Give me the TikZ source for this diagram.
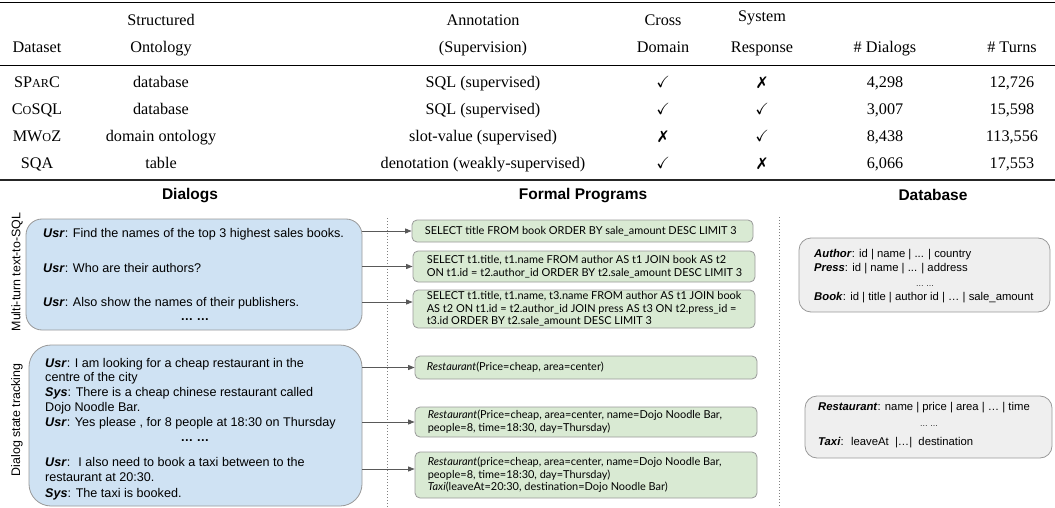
\documentclass[tikz,border=0pt]{standalone}
\usepackage{amssymb}
\usepackage{pifont}
\usepackage{fontspec}
\setmainfont{Liberation Serif}
\newfontfamily\arialf{Liberation Sans}
\newfontfamily\latof{Lato}
\usetikzlibrary{arrows.meta}
\definecolor{bluefill}{HTML}{CFE2F3}
\definecolor{greenfill}{HTML}{D9EAD3}
\definecolor{grayfill}{HTML}{EFEFEF}
\definecolor{boxline}{HTML}{999999}
\definecolor{arrowc}{HTML}{595959}
\newcommand\fsc[1]{{\fontsize{12.2}{13}\selectfont #1}}
\newcommand\xmark{\ding{55}}
\tikzset{
  tbl/.style={font=\fontsize{16.2}{19.5}\selectfont, inner sep=0, anchor=base},
  sechead/.style={font=\arialf\bfseries\fontsize{15.5}{18}\selectfont, inner sep=0},
  sidelab/.style={font=\arialf\fontsize{12.4}{14}\selectfont, inner sep=0, rotate=90},
  bbox/.style={draw=boxline, fill=bluefill, line width=0.8},
  gbox/.style={draw=boxline, fill=greenfill, line width=0.8, rounded corners=5},
  dbbox/.style={draw=boxline, fill=grayfill, line width=0.8, rounded corners=12},
  dtext/.style={font=\arialf\fontsize{12.6}{14.6}\selectfont, inner sep=0, anchor=base west},
  ddots/.style={font=\arialf\bfseries\fontsize{12.6}{14.6}\selectfont, inner sep=0, anchor=base},
  gtext/.style={font=\latof\fontsize{10.95}{12.7}\selectfont, inner sep=0, anchor=west, align=left},
  dbtext/.style={font=\arialf\fontsize{11.3}{14}\selectfont, inner sep=0, anchor=base west},
  dbdots/.style={font=\arialf\fontsize{8}{9}\selectfont, inner sep=0, anchor=base},
  arr/.style={draw=arrowc, line width=0.9, -{Triangle[length=6.5,width=5]}},
  sep/.style={draw=gray, line width=0.7, dash pattern=on 0.8pt off 2.2pt},
}
\begin{document}
\begin{tikzpicture}[x=1pt,y=-1pt]
\useasboundingbox (0,0) rectangle (1055,508);
% ---------- table ----------
\draw[line width=1.4] (0,2.5) -- (1055,2.5);
\node[tbl] (hs1) at (161,25.5) {Structured};
\node[tbl] (ha1) at (483,25.5) {Annotation};
\node[tbl] (hc1) at (663,25.5) {Cross};
\node[tbl] (hy1) at (762,21.5) {System};
\node[tbl] (hd)  at (37,52.5) {Dataset};
\node[tbl] (hs2) at (161,52.5) {Ontology};
\node[tbl] (ha2) at (483,52.5) {(Supervision)};
\node[tbl] (hc2) at (663,52.5) {Domain};
\node[tbl] (hy2) at (762,52.5) {Response};
\node[tbl] (hn)  at (885,52.5) {\# Dialogs};
\node[tbl] (ht)  at (1012,52.5) {\# Turns};
\draw[line width=0.8] (0,65) -- (1055,65);
% rows
\node[tbl] (r1a) at (37,87.5) {SP\fsc{AR}C};
\node[tbl] (r1b) at (161,87.5) {database};
\node[tbl] (r1c) at (483,87.5) {SQL (supervised)};
\node[tbl] (r1d) at (663,87.5) {$\checkmark$};
\node[tbl] (r1e) at (762,87.5) {\xmark};
\node[tbl] (r1f) at (885,87.5) {4,298};
\node[tbl] (r1g) at (1012,87.5) {12,726};
\node[tbl] (r2a) at (37,114.5) {C\fsc{O}SQL};
\node[tbl] (r2b) at (161,114.5) {database};
\node[tbl] (r2c) at (483,114.5) {SQL (supervised)};
\node[tbl] (r2d) at (663,114.5) {$\checkmark$};
\node[tbl] (r2e) at (762,114.5) {$\checkmark$};
\node[tbl] (r2f) at (885,114.5) {3,007};
\node[tbl] (r2g) at (1012,114.5) {15,598};
\node[tbl] (r3a) at (37,141.5) {MW\fsc{O}Z};
\node[tbl] (r3b) at (161,141.5) {domain ontology};
\node[tbl] (r3c) at (483,141.5) {slot-value (supervised)};
\node[tbl] (r3d) at (663,141.5) {\xmark};
\node[tbl] (r3e) at (762,141.5) {$\checkmark$};
\node[tbl] (r3f) at (885,141.5) {8,438};
\node[tbl] (r3g) at (1012,141.5) {113,556};
\node[tbl] (r4a) at (37,168.5) {SQA};
\node[tbl] (r4b) at (161,168.5) {table};
\node[tbl] (r4c) at (483,168.5) {denotation (weakly-supervised)};
\node[tbl] (r4d) at (663,168.5) {$\checkmark$};
\node[tbl] (r4e) at (762,168.5) {\xmark};
\node[tbl] (r4f) at (885,168.5) {6,066};
\node[tbl] (r4g) at (1012,168.5) {17,553};
\draw[line width=1.6, black!85] (0,180) -- (1055,180);
% ---------- section headers ----------
\node[sechead] (sh1) at (190,196) {Dialogs};
\node[sechead] (sh2) at (583,196) {Formal Programs};
\node[sechead] (sh3) at (933,195) {Database};
\node[sidelab] (sl1) at (17,272) {Multi-turn text-to-SQL};
\node[sidelab] (sl2) at (17,420) {Dialog state tracking};
% separators
\coordinate (s1t) at (387,218);
\coordinate (s1b) at (387,508);
\coordinate (s2t) at (779,217);
\coordinate (s2b) at (779,508);
\draw[sep] (s1t) -- (s1b);
\draw[sep] (s2t) -- (s2b);
% ---------- dialog boxes ----------
\node[bbox, rounded corners=16, minimum width=336, minimum height=111] (b1) at (194,274.5) {};
\node[bbox, rounded corners=22, minimum width=333, minimum height=161] (b2) at (195.5,425.5) {};
\node[dtext] (b1l1) at (43,237) {\textbf{\textit{Usr}}: Find the names of the top 3 highest sales books.};
\node[dtext] (b1l2) at (43,272) {\textbf{\textit{Usr}}: Who are their authors?};
\node[dtext] (b1l3) at (43,306) {\textbf{\textit{Usr}}: Also show the names of their publishers.};
\node[ddots] (b1d) at (195,320.5) {\ldots\ \ldots};
\node[dtext] (b2l1) at (45,367) {\textbf{\textit{Usr}}: I am looking for a cheap restaurant in the};
\node[dtext] (b2l2) at (45,381.5) {centre of the city};
\node[dtext] (b2l3) at (45,396.5) {\textbf{\textit{Sys}}: There is a cheap chinese restaurant called};
\node[dtext] (b2l4) at (45,411) {Dojo Noodle Bar.};
\node[dtext] (b2l5) at (45,426) {\textbf{\textit{Usr}}: Yes please , for 8 people at 18:30 on Thursday};
\node[ddots] (b2d) at (195,441.5) {\ldots\ \ldots};
\node[dtext] (b2l6) at (45,466) {\textbf{\textit{Usr}}: \ I also need to book a taxi between to the};
\node[dtext] (b2l7) at (45,481) {restaurant at 20:30.};
\node[dtext] (b2l8) at (45,497) {\textbf{\textit{Sys}}: The taxi is booked.};
% ---------- formal program boxes ----------
\node[gbox, minimum width=341, minimum height=22] (g1) at (582.5,231) {};
\node[gbox, minimum width=342, minimum height=31] (g2) at (584,266.5) {};
\node[gbox, minimum width=342, minimum height=38] (g3) at (584,309) {};
\node[gbox, minimum width=342, minimum height=23] (g4) at (586,367.5) {};
\node[gbox, minimum width=342, minimum height=30] (g5) at (586,422) {};
\node[gbox, minimum width=342, minimum height=46] (g6) at (586,475) {};
\node[gtext] (g1t) at ([xshift=13]g1.west) {SELECT title FROM book ORDER BY sale\_amount DESC LIMIT 3};
\node[gtext] (g2t) at ([xshift=14]g2.west) {SELECT t1.title, t1.name FROM author AS t1 JOIN book AS t2\\ON t1.id = t2.author\_id ORDER BY t2.sale\_amount DESC LIMIT 3};
\node[gtext] (g3t) at ([xshift=14]g3.west) {SELECT t1.title, t1.name, t3.name FROM author AS t1 JOIN book\\AS t2 ON t1.id = t2.author\_id JOIN press AS t3 ON t2.press\_id =\\t3.id ORDER BY t2.sale\_amount DESC LIMIT 3};
\node[gtext] (g4t) at ([xshift=12]g4.west) {\textit{Restaurant}(Price=cheap, area=center)};
\node[gtext] (g5t) at ([xshift=13]g5.west) {\textit{Restaurant}(Price=cheap, area=center, name=Dojo Noodle Bar,\\people=8, time=18:30, day=Thursday)};
\node[gtext] (g6t) at ([xshift=13]g6.west) {\textit{Restaurant}(price=cheap, area=center, name=Dojo Noodle Bar,\\people=8, time=18:30, day=Thursday)\\\textit{Taxi}(leaveAt=20:30, destination=Dojo Noodle Bar)};
% arrows
\coordinate (a3) at ([yshift=7]g3.west);
\coordinate (a6) at ([yshift=6]g6.west);
\draw[arr] (b1.east |- g1.west) -- (g1.west);
\draw[arr] (b1.east |- g2.west) -- (g2.west);
\draw[arr] (b1.east |- a3) -- (a3);
\draw[arr] (b2.east |- g4.west) -- (g4.west);
\draw[arr] (b2.east |- g5.west) -- (g5.west);
\draw[arr] (b2.east |- a6) -- (a6);
% ---------- database boxes ----------
\node[dbbox, minimum width=251, minimum height=74] (d1) at (924.5,275) {};
\node[dbbox, minimum width=247, minimum height=62] (d2) at (928.5,427) {};
\node[dbtext] (d1l1) at (814,257.5) {\textbf{\textit{Author}}: id | name | ... | country};
\node[dbtext] (d1l2) at (814,271.5) {\textbf{\textit{Press}}: id | name | ... | address};
\node[dbdots] (d1d) at (925,286) {\ldots\ \ldots};
\node[dbtext] (d1l3) at (814,300.5) {\textbf{\textit{Book}}: id | title | author id | \ldots{} | sale\_amount};
\node[dbtext] (d2l1) at (818,410.5) {\textbf{\textit{Restaurant}}: name | price | area | \ldots{} | time};
\node[dbdots] (d2d) at (929,426) {\ldots\ \ldots};
\node[dbtext] (d2l2) at (818,445.5) {\textbf{\textit{Taxi}}: \ leaveAt \ |\ldots|\ \ destination};
\end{tikzpicture}
\end{document}
